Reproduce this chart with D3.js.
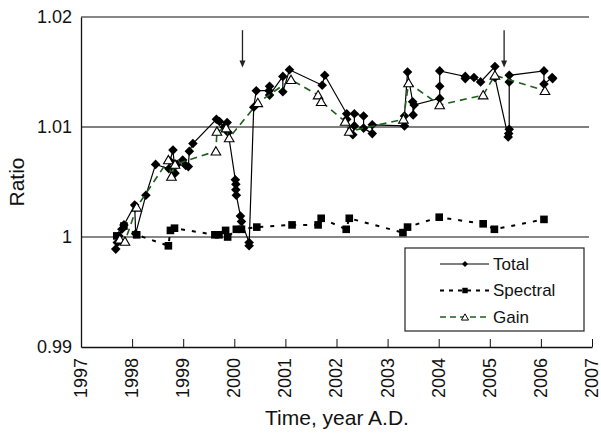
<!DOCTYPE html>
<html>
<head>
<meta charset="utf-8">
<script src="https://cdn.jsdelivr.net/npm/d3@7"></script>
<style>
  body { margin: 0; background: #fff; }
  svg { font-family: "Liberation Sans", Arial, Helvetica, sans-serif; }
</style>
</head>
<body>
<svg></svg>
<script>
var screen = {width: 601, height: 433};
var margins = {top: 17, right: 8, bottom: 86, left: 81};

// Total ratio (year, ratio)
var totalYears = [1997.68, 1997.71, 1997.74, 1997.80, 1997.84, 1998.05, 1998.07, 1998.27, 1998.46,
    1998.72, 1998.74, 1998.80, 1998.84, 1998.88, 1998.99, 1999.05, 1999.10, 1999.12, 1999.19,
    1999.65, 1999.71, 1999.80, 1999.86, 1999.88, 2000.02, 2000.03, 2000.03, 2000.04, 2000.12,
    2000.14, 2000.29, 2000.29, 2000.38, 2000.43, 2000.68, 2000.69, 2000.69, 2000.95, 2000.95,
    2001.08, 2001.72, 2001.77, 2002.20, 2002.20, 2002.32, 2002.35, 2002.35, 2002.53, 2002.53,
    2002.70, 2002.70, 2003.33, 2003.33, 2003.39, 2003.49, 2003.50, 2003.52, 2004.02, 2004.02,
    2004.02, 2004.52, 2004.52, 2004.69, 2004.82, 2005.10, 2005.10, 2005.36, 2005.37, 2005.38,
    2005.38, 2005.38, 2006.06, 2006.06, 2006.22, 2006.23];
var totalValues = [0.9989, 0.9995, 1.0001, 1.0007, 1.0011, 1.0029, 1.0003, 1.0038, 1.0066,
    1.0062, 1.0069, 1.0079, 1.0058, 1.0066, 1.0070, 1.0065, 1.0064, 1.0078, 1.0085,
    1.0107, 1.0105, 1.0100, 1.0104, 1.0095, 1.0052, 1.0048, 1.0043, 1.0038, 1.0019,
    1.0014, 0.9995, 0.9992, 1.0118, 1.0133, 1.0133, 1.0137, 1.0129, 1.0146, 1.0132,
    1.0152, 1.0138, 1.0147, 1.0112, 1.0107, 1.0093, 1.0101, 1.0112, 1.0110, 1.0099,
    1.0094, 1.0102, 1.0101, 1.0110, 1.0150, 1.0123, 1.0111, 1.0120, 1.0126, 1.0137,
    1.0151, 1.0146, 1.0144, 1.0145, 1.0141, 1.0155, 1.0145, 1.0091, 1.0094, 1.0098,
    1.0141, 1.0147, 1.0151, 1.0139, 1.0145, 1.0144];

// Spectral ratio
var spectralYears = [1997.70, 1997.84, 1998.09, 1998.71, 1998.75, 1998.83, 1999.62, 1999.70,
    1999.83, 1999.87, 2000.04, 2000.14, 2000.44, 2001.13, 2001.64, 2001.70, 2002.19, 2002.25,
    2003.30, 2003.39, 2004.01, 2004.87, 2005.09, 2006.06];
var spectralValues = [1.0001, 1.0010, 1.0002, 0.9992, 1.0006, 1.0008, 1.0002, 1.0002,
    1.0006, 1.0000, 1.0007, 1.0007, 1.0009, 1.0011, 1.0011, 1.0017, 1.0007, 1.0017,
    1.0004, 1.0009, 1.0018, 1.0012, 1.0007, 1.0016];

// Gain ratio
var gainYears = [1997.76, 1997.86, 1998.09, 1998.71, 1998.77, 1998.84, 1999.64, 1999.66,
    1999.84, 1999.90, 2000.46, 2001.11, 2001.64, 2001.70, 2002.17, 2002.25, 2003.31, 2003.41,
    2004.02, 2004.87, 2005.10, 2006.08];
var gainValues = [0.9998, 0.9996, 1.0027, 1.0070, 1.0055, 1.0066, 1.0078, 1.0096,
    1.0099, 1.0090, 1.0122, 1.0143, 1.0129, 1.0123, 1.0105, 1.0096, 1.0107, 1.0140,
    1.0120, 1.0129, 1.0147, 1.0133];

var xTicks = [1997, 1998, 1999, 2000, 2001, 2002, 2003, 2004, 2005, 2006, 2007];
var yTicks = [0.99, 1, 1.01, 1.02];
var arrowYears = [2000.16, 2005.28];
var arrowRange = [1.0188, 1.0154];
var seriesNames = ["Total", "Spectral", "Gain"];

var svg = d3.select("svg")
    .attr("width", screen.width)
    .attr("height", screen.height);

var width = screen.width - margins.left - margins.right;
var height = screen.height - margins.top - margins.bottom;

var xScale = d3.scaleLinear()
    .domain([1997, 2007])
    .range([margins.left, margins.left + 511]);

var yScale = d3.scaleLinear()
    .domain([0.99, 1.02])
    .range([margins.top + height, margins.top]);

var green = "#1d5e1d";

// gridlines
svg.append("g")
    .selectAll("line")
    .data(yTicks.filter(function(d) { return d > 0.99; }))
    .enter()
    .append("line")
    .attr("x1", xScale(1997))
    .attr("x2", xScale(2007) - 3)
    .attr("y1", function(d) { return yScale(d); })
    .attr("y2", function(d) { return yScale(d); })
    .attr("stroke", function(d) { return d === 1.01 ? "#808080" : "#111"; })
    .attr("stroke-width", function(d) { return d === 1.01 ? 1.8 : 1.2; });

// axes
var xAxis = d3.axisBottom(xScale)
    .tickValues(xTicks)
    .tickFormat(d3.format("d"))
    .tickSizeInner(-8)
    .tickSizeOuter(0)
    .tickPadding(0);

var gx = svg.append("g")
    .attr("transform", "translate(0," + yScale(0.99) + ")")
    .call(xAxis);
gx.select(".domain").attr("stroke", "#111").attr("stroke-width", 1.3);
gx.selectAll(".tick line").attr("stroke", "#111");
gx.selectAll(".tick text")
    .attr("transform", "rotate(-90)")
    .attr("text-anchor", "end")
    .attr("x", -11)
    .attr("y", 0)
    .attr("dy", "0.3em")
    .attr("font-size", 18)
    .attr("fill", "#111");

var yAxis = d3.axisLeft(yScale)
    .tickValues(yTicks)
    .tickFormat(function(d) { return d === 1 ? "1" : d3.format(".2f")(d); })
    .tickSize(0)
    .tickPadding(9);

var gy = svg.append("g")
    .attr("transform", "translate(" + xScale(1997) + ",0)")
    .call(yAxis);
gy.select(".domain").attr("stroke", "#111").attr("stroke-width", 1.3);
gy.selectAll(".tick text").attr("font-size", 18).attr("fill", "#111");

// axis titles
svg.append("text")
    .attr("x", 337)
    .attr("y", 425)
    .attr("text-anchor", "middle")
    .attr("font-size", 21)
    .attr("fill", "#111")
    .text("Time, year A.D.");

svg.append("text")
    .attr("transform", "translate(24,182) rotate(-90)")
    .attr("text-anchor", "middle")
    .attr("font-size", 21)
    .attr("fill", "#111")
    .text("Ratio");

var toPoints = function(xs, ys) {
    return xs.map(function(x, i) { return {x: x, y: ys[i]}; });
};

var total = toPoints(totalYears, totalValues);
var spectral = toPoints(spectralYears, spectralValues);
var gain = toPoints(gainYears, gainValues);

var line = d3.line()
    .x(function(d) { return xScale(d.x); })
    .y(function(d) { return yScale(d.y); });

var diamond = d3.symbol().type(d3.symbolSquare).size(46);
var square = d3.symbol().type(d3.symbolSquare).size(58);
var triangle = d3.symbol().type(d3.symbolTriangle).size(40);

// Total
svg.append("path")
    .datum(total)
    .attr("d", line)
    .attr("fill", "none")
    .attr("stroke", "#000")
    .attr("stroke-width", 1.2);

svg.append("g")
    .selectAll("path")
    .data(total)
    .enter()
    .append("path")
    .attr("d", diamond)
    .attr("transform", function(d) {
        return "translate(" + xScale(d.x) + "," + yScale(d.y) + ") rotate(45)";
    })
    .attr("fill", "#000");

// Spectral
svg.append("path")
    .datum(spectral)
    .attr("d", line)
    .attr("fill", "none")
    .attr("stroke", "#000")
    .attr("stroke-width", 2)
    .attr("stroke-dasharray", "4,7");

svg.append("g")
    .selectAll("path")
    .data(spectral)
    .enter()
    .append("path")
    .attr("d", square)
    .attr("transform", function(d) {
        return "translate(" + xScale(d.x) + "," + yScale(d.y) + ")";
    })
    .attr("fill", "#000");

// Gain
svg.append("path")
    .datum(gain)
    .attr("d", line)
    .attr("fill", "none")
    .attr("stroke", green)
    .attr("stroke-width", 1.6)
    .attr("stroke-dasharray", "7,5");

svg.append("g")
    .selectAll("path")
    .data(gain)
    .enter()
    .append("path")
    .attr("d", triangle)
    .attr("transform", function(d) {
        return "translate(" + xScale(d.x) + "," + (yScale(d.y) + 1) + ")";
    })
    .attr("fill", "#fff")
    .attr("stroke", "#000")
    .attr("stroke-width", 1.1);

// arrows
var arrows = svg.append("g");
arrowYears.forEach(function(yr) {
    var ax = xScale(yr);
    arrows.append("line")
        .attr("x1", ax).attr("x2", ax)
        .attr("y1", yScale(arrowRange[0]))
        .attr("y2", yScale(arrowRange[1]) - 5)
        .attr("stroke", "#222")
        .attr("stroke-width", 1.3);
    arrows.append("path")
        .attr("d", "M" + (ax - 3) + "," + (yScale(arrowRange[1]) - 7) +
            "L" + (ax + 3) + "," + (yScale(arrowRange[1]) - 7) +
            "L" + ax + "," + yScale(arrowRange[1]) + "Z")
        .attr("fill", "#222");
});

// legend
var legend = svg.append("g").attr("transform", "translate(405,248)");
legend.append("rect")
    .attr("width", 179)
    .attr("height", 83)
    .attr("fill", "#fff")
    .attr("stroke", "#222")
    .attr("stroke-width", 1.2);

var legendStyles = [
    {stroke: "#000", dash: null, w: 1.2, sym: d3.symbol().type(d3.symbolSquare).size(18), rot: 45, fill: "#000"},
    {stroke: "#000", dash: "4,5", w: 2, sym: d3.symbol().type(d3.symbolSquare).size(30), rot: 0, fill: "#000"},
    {stroke: green, dash: "6,4", w: 1.6, sym: d3.symbol().type(d3.symbolTriangle).size(22), rot: 0, fill: "#fff"}
];

seriesNames.forEach(function(name, i) {
    var s = legendStyles[i];
    var ly = 16 + i * 26.5;
    legend.append("line")
        .attr("x1", 35).attr("x2", 84)
        .attr("y1", ly).attr("y2", ly)
        .attr("stroke", s.stroke)
        .attr("stroke-width", s.w)
        .attr("stroke-dasharray", s.dash);
    legend.append("path")
        .attr("d", s.sym)
        .attr("transform", "translate(60," + (ly + (i === 2 ? 1 : 0)) + ") rotate(" + s.rot + ")")
        .attr("fill", s.fill)
        .attr("stroke", i === 2 ? "#000" : "none")
        .attr("stroke-width", 1);
    legend.append("text")
        .attr("x", 88)
        .attr("y", ly)
        .attr("dy", "0.35em")
        .attr("font-size", 17)
        .attr("fill", "#111")
        .text(name);
});
</script>
</body>
</html>
